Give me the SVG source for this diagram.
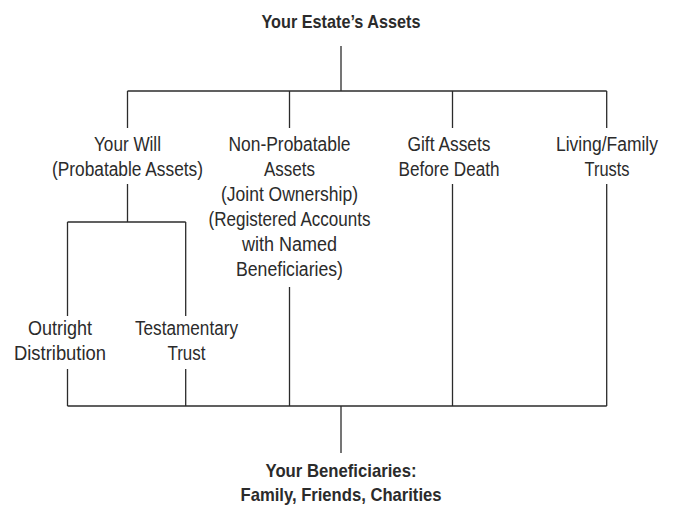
<svg xmlns="http://www.w3.org/2000/svg" width="677" height="505" viewBox="0 0 677 505">
<style>
text{font-family:"Liberation Sans",Arial,sans-serif;fill:#2b2b2b;text-anchor:middle;font-size:19.5px}
.b{font-weight:bold;font-size:19px}
.c line{stroke:#2b2b2b;stroke-width:1.3}
</style>
<rect width="677" height="505" fill="#fff"/>
<g class="c" id="connectors">
<line x1="341" y1="46" x2="341" y2="91"/>
<line x1="127.5" y1="91" x2="606.7" y2="91"/>
<line x1="127.5" y1="91" x2="127.5" y2="128"/>
<line x1="289.5" y1="91" x2="289.5" y2="128"/>
<line x1="452.5" y1="91" x2="452.5" y2="128"/>
<line x1="606.7" y1="91" x2="606.7" y2="128"/>
<line x1="127.5" y1="184" x2="127.5" y2="222"/>
<line x1="67.5" y1="222" x2="185.7" y2="222"/>
<line x1="67.5" y1="222" x2="67.5" y2="316"/>
<line x1="185.7" y1="222" x2="185.7" y2="316"/>
<line x1="67.5" y1="369" x2="67.5" y2="406"/>
<line x1="185.7" y1="369" x2="185.7" y2="406"/>
<line x1="289.5" y1="287" x2="289.5" y2="406"/>
<line x1="452.5" y1="184" x2="452.5" y2="406"/>
<line x1="606.7" y1="184" x2="606.7" y2="406"/>
<line x1="67.5" y1="406" x2="606.7" y2="406"/>
<line x1="341" y1="406" x2="341" y2="453"/>
</g>
<g id="estate"><text class="b" x="341" y="28" textLength="159" lengthAdjust="spacingAndGlyphs">Your Estate’s Assets</text></g>
<g id="will">
<text x="127.5" y="151" textLength="67" lengthAdjust="spacingAndGlyphs">Your Will</text>
<text x="127.5" y="176" textLength="151" lengthAdjust="spacingAndGlyphs">(Probatable Assets)</text>
</g>
<g id="nonprobatable">
<text x="289.5" y="151" textLength="122" lengthAdjust="spacingAndGlyphs">Non-Probatable</text>
<text x="289.5" y="176" textLength="51" lengthAdjust="spacingAndGlyphs">Assets</text>
<text x="289.5" y="201" textLength="137" lengthAdjust="spacingAndGlyphs">(Joint Ownership)</text>
<text x="289.5" y="226" textLength="162" lengthAdjust="spacingAndGlyphs">(Registered Accounts</text>
<text x="289.5" y="251" textLength="95" lengthAdjust="spacingAndGlyphs">with Named</text>
<text x="289.5" y="276" textLength="107" lengthAdjust="spacingAndGlyphs">Beneficiaries)</text>
</g>
<g id="gift">
<text x="449" y="151" textLength="83" lengthAdjust="spacingAndGlyphs">Gift Assets</text>
<text x="449" y="176" textLength="101" lengthAdjust="spacingAndGlyphs">Before Death</text>
</g>
<g id="living">
<text x="607" y="151" textLength="102" lengthAdjust="spacingAndGlyphs">Living/Family</text>
<text x="607" y="176" textLength="45" lengthAdjust="spacingAndGlyphs">Trusts</text>
</g>
<g id="outright">
<text x="60" y="335" textLength="64" lengthAdjust="spacingAndGlyphs">Outright</text>
<text x="60" y="360" textLength="92" lengthAdjust="spacingAndGlyphs">Distribution</text>
</g>
<g id="testamentary">
<text x="186.5" y="335" textLength="103" lengthAdjust="spacingAndGlyphs">Testamentary</text>
<text x="186.5" y="360" textLength="38" lengthAdjust="spacingAndGlyphs">Trust</text>
</g>
<g id="beneficiaries">
<text class="b" x="341" y="477" textLength="151" lengthAdjust="spacingAndGlyphs">Your Beneficiaries:</text>
<text class="b" x="341" y="501" textLength="201" lengthAdjust="spacingAndGlyphs">Family, Friends, Charities</text>
</g>
</svg>
